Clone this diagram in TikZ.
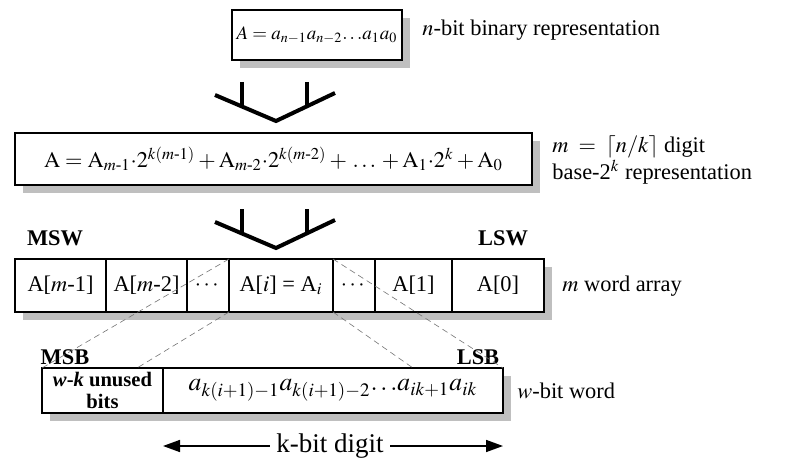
\documentclass[tikz,border=0pt]{standalone}
\usepackage{mathptmx}
\usepackage{amsmath}
\usepackage{fontspec}
\setmainfont{Liberation Serif}
\usetikzlibrary{arrows.meta,shadows}

\begin{document}
\begin{tikzpicture}[x=0.5pt, y=-0.5pt, font=\fontsize{11.2}{12}\selectfont,
  box/.style={draw, line width=1pt, fill=white, inner sep=0pt, outer sep=0pt,
    drop shadow={shadow xshift=4pt, shadow yshift=-4pt, opacity=1, fill=black!25}},
  lab/.style={inner sep=1pt},
  tag/.style={font=\fontsize{11.2}{12}\selectfont\bfseries},
  fork/.style={line width=2pt, line join=miter},
  proj/.style={densely dashed, line width=0.3pt, black!55},
  dig/.style={line width=0.8pt, -{Triangle[length=8.5pt,width=6pt]}}]
\useasboundingbox (0,0) rectangle (803,465);
% n-bit number
\node[box, minimum width=85pt, minimum height=25pt, font=\fontsize{9.5}{11}\selectfont] (bin) at (317,35)
  {$A = a_{n-1}a_{n-2}{\ldots}a_1a_0$};
\node[lab, anchor=west] (binlab) at (420,30) {$n$-bit binary representation};
% base-2^k digits
\node[box, minimum width=258.5pt, minimum height=26pt] (poly) at (273.5,159)
  {$\mathrm{A} = \mathrm{A}_{m\textrm{-}1}{\cdot}2^{k(m\textrm{-}1)} + \mathrm{A}_{m\textrm{-}2}{\cdot}2^{k(m\textrm{-}2)} + \,.\,.\,.\, + \mathrm{A}_1{\cdot}2^k + \mathrm{A}_0$};
\node[lab, anchor=west, align=left] (polylab) at (550,160) {$m\;=\;\lceil n/k\rceil$ digit\\base-2$^k$ representation};
\foreach \dy in {0,127} {
  \draw[fork] (215,95+\dy) -- (276,121+\dy) -- (335,93+\dy);
  \draw[fork] (242,82+\dy) -- (242,107+\dy);
  \draw[fork] (307,82+\dy) -- (307,107+\dy);
}
% word array
\foreach \l/\r/\nm/\txt in {15/106/c0/{A[$m$-1]}, 106/187/c1/{A[$m$-2]}, 187/229/c2/{$\cdots$},
    229/333/ai/{A[$i$] = A$_i$}, 333/375/c4/{$\cdots$}, 375/452/c5/{A[1]}, 452/544/c6/{A[0]}} {
  \pgfmathsetmacro\cw{(\r-\l)/2}
  \node[box, minimum width=\cw pt, minimum height=26.5pt] (\nm) at ({(\l+\r)/2},285.5) {\txt};
}
\node[tag] (msw) at (55,238) {MSW};
\node[tag] (lsw) at (503,238) {LSW};
\node[lab, anchor=west] (arrlab) at (560,286) {$m$ word array};
% one word
\node[box, minimum width=60.5pt, minimum height=22.5pt, align=center, font=\fontsize{10.3}{11}\selectfont] (wl) at (102.5,390.5)
  {\textbf{\textit{w}-\textit{k} unused}\\\textbf{bits}};
\node[box, minimum width=170pt, minimum height=22.5pt, font=\fontsize{12.8}{14}\selectfont] (wr) at (333,390.5)
  {$a_{k(i+1)-1}a_{k(i+1)-2}{\ldots}a_{ik+1}a_{ik}$};
\node[tag] (msb) at (65,357) {MSB};
\node[tag] (lsb) at (478,357) {LSB};
\node[lab, anchor=west] (wordlab) at (515,391) {$w$-bit word};
\coordinate (p1) at (137,368);
\coordinate (p2) at (413,368);
\draw[proj] (ai.north west) -- (wl.north west);
\draw[proj] (ai.south west) -- (p1);
\draw[proj] (ai.north east) -- (wr.north east);
\draw[proj] (ai.south east) -- (p2);
% digit width
\node[lab, inner sep=3pt, font=\fontsize{13.5}{15}\selectfont] (kbit) at (330,446) {k-bit digit};
\draw[dig] (kbit.west) -- (kbit.west -| wr.west);
\draw[dig] (kbit.east) -- (kbit.east -| wr.east);
\end{tikzpicture}
\end{document}
